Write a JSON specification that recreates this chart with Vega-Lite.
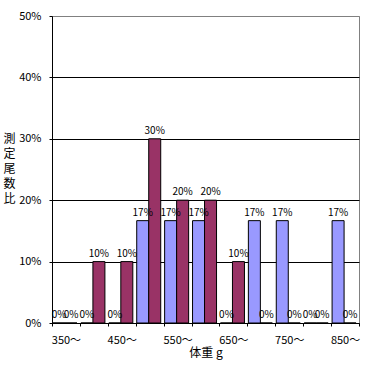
{
  "$schema": "https://vega.github.io/schema/vega-lite/v6.json",
  "width": 307,
  "height": 307,
  "autosize": "none",
  "padding": {"left": 52, "top": 16, "right": 8, "bottom": 44},
  "background": "white",
  "config": {
    "view": {"stroke": "#808080", "strokeWidth": 1},
    "font": "Noto Sans CJK JP"
  },
  "data": {
    "values": [
      {"w": "350〜", "s": "A", "v": 0},
      {"w": "350〜", "s": "B", "v": 0},
      {"w": "400〜", "s": "A", "v": 0},
      {"w": "400〜", "s": "B", "v": 0.1},
      {"w": "450〜", "s": "A", "v": 0},
      {"w": "450〜", "s": "B", "v": 0.1},
      {"w": "500〜", "s": "A", "v": 0.1667},
      {"w": "500〜", "s": "B", "v": 0.3},
      {"w": "550〜", "s": "A", "v": 0.1667},
      {"w": "550〜", "s": "B", "v": 0.2},
      {"w": "600〜", "s": "A", "v": 0.1667},
      {"w": "600〜", "s": "B", "v": 0.2},
      {"w": "650〜", "s": "A", "v": 0},
      {"w": "650〜", "s": "B", "v": 0.1},
      {"w": "700〜", "s": "A", "v": 0.1667},
      {"w": "700〜", "s": "B", "v": 0},
      {"w": "750〜", "s": "A", "v": 0.1667},
      {"w": "750〜", "s": "B", "v": 0},
      {"w": "800〜", "s": "A", "v": 0},
      {"w": "800〜", "s": "B", "v": 0},
      {"w": "850〜", "s": "A", "v": 0.1667},
      {"w": "850〜", "s": "B", "v": 0}
    ]
  },
  "encoding": {
    "x": {
      "field": "w",
      "type": "nominal",
      "sort": null,
      "scale": {"paddingInner": 0, "paddingOuter": 0},
      "axis": {
        "title": "体重 g",
        "titleFontSize": 12,
        "titleFontWeight": "normal",
        "titleColor": "black",
        "titlePadding": 2,
        "labelAngle": 0,
        "labelFontSize": 11,
        "labelColor": "black",
        "labelPadding": 8,
        "labelExpr": "indexof(['350〜','450〜','550〜','650〜','750〜','850〜'], datum.label) >= 0 ? datum.label : ''",
        "tickBand": "extent",
        "tickSize": 3,
        "tickColor": "black",
        "domainColor": "black",
        "grid": false
      }
    },
    "xOffset": {
      "field": "s",
      "type": "nominal",
      "scale": {"range": [1, 25], "paddingInner": 0, "paddingOuter": 0}
    },
    "y": {
      "field": "v",
      "type": "quantitative",
      "scale": {"domain": [0, 0.5], "nice": false},
      "axis": {
        "values": [0, 0.1, 0.2, 0.3, 0.4, 0.5],
        "format": ".0%",
        "labelFontSize": 11,
        "labelColor": "black",
        "labelPadding": 8,
        "tickSize": 3,
        "tickColor": "black",
        "domainColor": "black",
        "grid": true,
        "gridColor": {"condition": {"test": "datum.value >= 0.5", "value": "#808080"}, "value": "black"},
        "gridOpacity": 1,
        "title": ["測", "定", "尾", "数", "比"],
        "titleAngle": 0,
        "titleFontSize": 12,
        "titleFontWeight": "normal",
        "titleColor": "black",
        "titleLineHeight": 15,
        "titleAlign": "center",
        "titleBaseline": "top",
        "titleX": -43,
        "titleY": 117
      }
    }
  },
  "layer": [
    {
      "mark": {"type": "bar", "stroke": "black", "strokeWidth": 1},
      "encoding": {
        "color": {
          "field": "s",
          "type": "nominal",
          "scale": {"domain": ["A", "B"], "range": ["#9999FF", "#993366"]},
          "legend": null
        }
      }
    },
    {
      "mark": {"type": "text", "baseline": "bottom", "dy": -3, "fontSize": 10, "color": "black"},
      "encoding": {
        "text": {"field": "v", "type": "quantitative", "format": ".0%"}
      }
    }
  ]
}
